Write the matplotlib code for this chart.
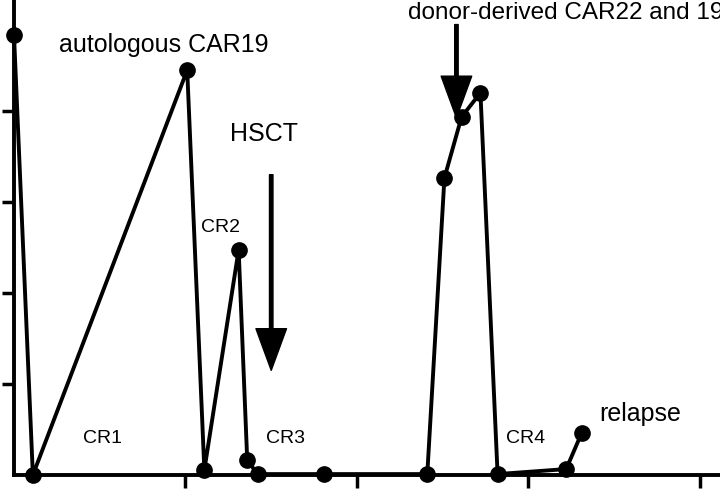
import matplotlib.pyplot as plt

plt.rcParams['font.family'] = ['Liberation Sans', 'DejaVu Sans']

days = [0, 11, 101, 111, 131, 136, 142, 181, 241, 251, 261, 272, 282, 322, 331]
level = [96.7, 0, 89, 1.1, 49.5, 3.3, 0.2, 0.2, 0.2, 65.3, 78.7, 84, 0.2, 1.3, 9.2]

fig = plt.figure(figsize=(7.2, 4.92), dpi=100)
ax = fig.add_axes([14 / 720, 17 / 492, 1 - 14 / 720, 475 / 492])
ax.plot(days, level, color='black', lw=2.8, marker='o', ms=11, clip_on=False, zorder=3)
ax.set_xlim(0, 411.7)
ax.set_ylim(0, 104.4)
ax.set_xticks([100, 200, 300, 400])
ax.set_yticks([20, 40, 60, 80])
ax.set_xticklabels([])
ax.set_yticklabels([])
ax.tick_params(width=2.5, length=9, direction='out')
for s in ['top', 'right']:
    ax.spines[s].set_visible(False)
for s in ['left', 'bottom']:
    ax.spines[s].set_linewidth(2.8)

ax.text(26, 94.5, 'autologous CAR19', fontsize=18, va='center')
ax.text(126, 75, 'HSCT', fontsize=18, va='center')
ax.text(230, 101.5, 'donor-derived CAR22 and 19', fontsize=17.5, va='center')
ax.text(341, 13.5, 'relapse', fontsize=18, va='center')
ax.text(40, 8, 'CR1', fontsize=14, va='center')
ax.text(109, 54.5, 'CR2', fontsize=14, va='center')
ax.text(147, 8, 'CR3', fontsize=14, va='center')
ax.text(287, 8, 'CR4', fontsize=14, va='center')

arrow = dict(facecolor='black', edgecolor='black', width=2.5, headwidth=22, headlength=30)
ax.annotate('', xy=(150, 23), xytext=(150, 66), arrowprops=arrow)
ax.annotate('', xy=(258, 78.5), xytext=(258, 99), arrowprops=arrow)

fig.savefig('out.png')
